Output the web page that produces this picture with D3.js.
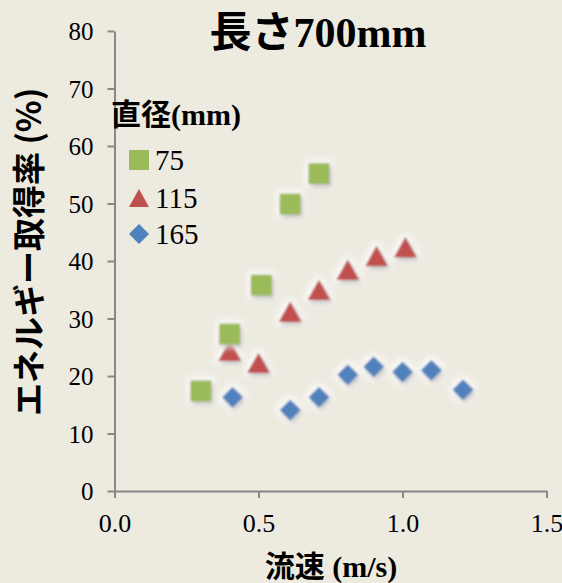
<!DOCTYPE html>
<html>
<head>
<meta charset="utf-8">
<script src="https://cdn.jsdelivr.net/npm/d3@7"></script>
<style>
  html, body { margin: 0; padding: 0; background: #EDEAE0; }
  svg { display: block; }
</style>
</head>
<body>
<div id="chart"></div>
<script>
// Flow velocity (m/s) and energy capture rate (%) per pipe diameter
const diameters = ["75", "115", "165"];
const colors = ["#9BBB59", "#C0504D", "#4F81BD"];

const speed75 = [0.30, 0.40, 0.51, 0.61, 0.71];
const rate75  = [17.4, 27.3, 35.8, 49.9, 55.2];

const speed115 = [0.40, 0.50, 0.61, 0.71, 0.81, 0.91, 1.01];
const rate115  = [24.4, 22.3, 31.2, 35.0, 38.5, 40.9, 42.4];

const speed165 = [0.41, 0.61, 0.71, 0.81, 0.90, 1.00, 1.10, 1.21];
const rate165  = [16.3, 14.1, 16.3, 20.2, 21.6, 20.7, 21.0, 17.6];

const xTicks = [0, 0.5, 1.0, 1.5];
const yTicks = [0, 10, 20, 30, 40, 50, 60, 70, 80];

const W = 562, H = 583;
const serif = "Liberation Serif, Times New Roman, Times, DejaVu Serif, serif";
const gothic = "Liberation Serif, Times New Roman, Times, serif, Noto Sans CJK JP";

const svg = d3.select("#chart").append("svg")
  .attr("width", W).attr("height", H);

svg.append("rect").attr("width", W).attr("height", H).attr("fill", "#EDEAE0");

const x = d3.scaleLinear().domain([0, 1.5]).range([114.5, 546.5]);
const y = d3.scaleLinear().domain([0, 80]).range([491, 31]);

// Soft glow + drop shadow used on the plotted markers
const defs = svg.append("defs");
const f = defs.append("filter").attr("id", "glow")
  .attr("x", "-80%").attr("y", "-80%").attr("width", "260%").attr("height", "260%");
f.append("feMorphology").attr("in", "SourceAlpha").attr("operator", "dilate").attr("radius", 3).attr("result", "dil");
f.append("feGaussianBlur").attr("in", "dil").attr("stdDeviation", 3).attr("result", "dilb");
f.append("feFlood").attr("flood-color", "#ffffff").attr("flood-opacity", 0.85).attr("result", "white");
f.append("feComposite").attr("in", "white").attr("in2", "dilb").attr("operator", "in").attr("result", "halo");
f.append("feOffset").attr("in", "SourceAlpha").attr("dx", 2).attr("dy", 3).attr("result", "off");
f.append("feGaussianBlur").attr("in", "off").attr("stdDeviation", 2.5).attr("result", "offb");
f.append("feFlood").attr("flood-color", "#000000").attr("flood-opacity", 0.4).attr("result", "dark");
f.append("feComposite").attr("in", "dark").attr("in2", "offb").attr("operator", "in").attr("result", "shadow");
f.append("feGaussianBlur").attr("in", "SourceGraphic").attr("stdDeviation", 1.2).attr("result", "soft");
const merge = f.append("feMerge");
merge.append("feMergeNode").attr("in", "halo");
merge.append("feMergeNode").attr("in", "shadow");
merge.append("feMergeNode").attr("in", "soft");

// Marker shapes: size is the bounding box edge length in px
const shapeSquare = { draw(ctx, s) { const h = s / 2; ctx.rect(-h, -h, s, s); } };
const shapeTriangle = { draw(ctx, s) {
  const h = s / 2, t = s * 0.9 / 2;
  ctx.moveTo(0, -t); ctx.lineTo(h, t); ctx.lineTo(-h, t); ctx.closePath(); } };
const shapeDiamond = { draw(ctx, s) {
  const h = s / 2; ctx.moveTo(0, -h); ctx.lineTo(h, 0); ctx.lineTo(0, h); ctx.lineTo(-h, 0); ctx.closePath(); } };
const shapes = [shapeSquare, shapeTriangle, shapeDiamond];
const sizes = [21, 23, 21];

// Axes
const axisColor = "#888888";
const yAxis = svg.append("g").attr("transform", `translate(${x(0)},0)`)
  .call(d3.axisLeft(y).tickValues(yTicks).tickSize(7).tickSizeOuter(0).tickPadding(14));
const xAxis = svg.append("g").attr("transform", `translate(0,${y(0)})`)
  .call(d3.axisBottom(x).tickValues(xTicks).tickSize(7).tickSizeOuter(0)
    .tickFormat(d3.format(".1f")).tickPadding(14));
[yAxis, xAxis].forEach(g => {
  g.attr("font-family", serif).attr("font-size", 25);
  g.select(".domain").attr("stroke", axisColor).attr("stroke-width", 2);
  g.selectAll(".tick line").attr("stroke", axisColor).attr("stroke-width", 2);
  g.selectAll(".tick text").attr("fill", "#000").attr("font-family", serif);
});
xAxis.attr("font-size", 26);
xAxis.selectAll(".tick text").attr("dy", "0.75em");
yAxis.selectAll(".tick text").attr("dy", "0.35em");

// Data series
const series = [
  { xs: speed75, ys: rate75 },
  { xs: speed115, ys: rate115 },
  { xs: speed165, ys: rate165 }
];
const plot = svg.append("g");
series.slice().reverse().forEach((s, ri) => {
  const i = series.length - 1 - ri;
  const pts = s.xs.map((v, k) => [v, s.ys[k]]);
  plot.append("g").selectAll("path").data(pts).join("path")
    .attr("transform", d => `translate(${x(d[0])},${y(d[1])})`)
    .attr("d", d3.symbol().type(shapes[i]).size(sizes[i]))
    .attr("fill", colors[i])
    .attr("filter", "url(#glow)");
});

// Title
svg.append("text").attr("x", 318).attr("y", 47).attr("text-anchor", "middle")
  .attr("font-family", gothic).attr("font-size", 42).attr("font-weight", "bold")
  .text("長さ700mm");

// Axis titles
svg.append("text").attr("x", 331).attr("y", 577).attr("text-anchor", "middle")
  .attr("font-family", gothic).attr("font-size", 30).attr("font-weight", "bold")
  .text("流速 (m/s)");
svg.append("text").attr("transform", "translate(41,252) rotate(-90)").attr("text-anchor", "middle")
  .attr("font-family", "Noto Sans CJK JP, sans-serif").attr("font-size", 33).attr("font-weight", "bold")
  .text("エネルギー取得率 (%)");

// Legend
const legend = svg.append("g");
legend.append("text").attr("x", 111).attr("y", 125)
  .attr("font-family", gothic).attr("font-size", 30).attr("font-weight", "bold")
  .text("直径(mm)");
const legendY = [160, 198, 234];
diameters.forEach((d, i) => {
  legend.append("path")
    .attr("transform", `translate(139,${legendY[i]})`)
    .attr("d", d3.symbol().type(shapes[i]).size(20))
    .attr("fill", colors[i]);
  legend.append("text").attr("x", 155).attr("y", legendY[i] + 10)
    .attr("font-family", serif).attr("font-size", 29)
    .text(d);
});
</script>
</body>
</html>
